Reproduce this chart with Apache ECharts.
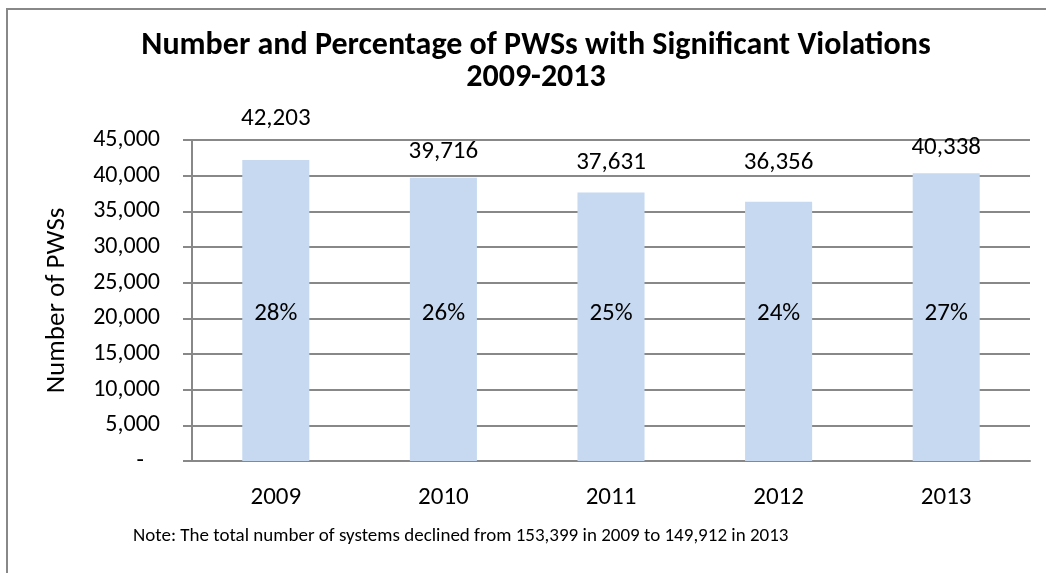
<!DOCTYPE html>
<html>
<head>
<meta charset="utf-8">
<script src="https://cdn.jsdelivr.net/npm/echarts@6/dist/echarts.min.js"></script>
<style>
  html, body { margin: 0; padding: 0; background: #fff; }
  #chart { width: 1046px; height: 573px; }
</style>
</head>
<body>
<div id="chart"></div>
<script>
// PWSs with significant violations, by year
const years = ['2009', '2010', '2011', '2012', '2013'];
const counts = [42203, 39716, 37631, 36356, 40338];
const shares = ['28%', '26%', '25%', '24%', '27%'];
// extra lift of each count label above its bar (px)
const countLabelGap = [29, 13, 17, 26, 13];
const yTicks = { min: 0, max: 45000, step: 5000 };

const FONT = 'Carlito, Lato, sans-serif';
const fmt = v => v === 0 ? '-   ' : v.toLocaleString('en-US');

const chart = echarts.init(document.getElementById('chart'), null, { renderer: 'canvas' });
chart.setOption({
  animation: false,
  backgroundColor: '#fff',
  textStyle: { fontFamily: FONT, color: '#000' },
  title: {
    text: 'Number and Percentage of PWSs with Significant Violations\n2009-2013',
    left: 531, top: 25, textAlign: 'center',
    textStyle: { fontFamily: FONT, fontWeight: 'bold', fontSize: 32, lineHeight: 32, color: '#000' }
  },
  graphic: [
    { type: 'rect', shape: { x: 7, y: 9, width: 1100, height: 700 },
      style: { fill: 'none', stroke: '#888', lineWidth: 2 }, silent: true },
    { type: 'text', left: 133, top: 527,
      style: { text: 'Note: The total number of systems declined from 153,399 in 2009 to 149,912 in 2013',
               font: '19px ' + FONT, fill: '#000' } }
  ],
  grid: { left: 192, right: 16, top: 140, bottom: 112 },
  xAxis: {
    type: 'category', data: years,
    axisLine: { lineStyle: { color: '#888', width: 2 } },
    axisTick: { show: false },
    axisLabel: { fontFamily: FONT, fontSize: 25, color: '#000', margin: 24 }
  },
  yAxis: {
    type: 'value', min: yTicks.min, max: yTicks.max, interval: yTicks.step,
    name: 'Number of PWSs', nameLocation: 'middle', nameGap: 121, nameRotate: 90,
    nameTextStyle: { fontFamily: FONT, fontSize: 27, color: '#000' },
    axisLine: { show: true, lineStyle: { color: '#888', width: 2 } },
    axisTick: { show: true, length: 9, lineStyle: { color: '#888', width: 2 } },
    axisLabel: { fontFamily: FONT, fontSize: 24, color: '#000', margin: 32, formatter: fmt },
    splitLine: { lineStyle: { color: '#888', width: 2 } }
  },
  series: [
    {
      type: 'bar', data: counts.map((v, i) => ({
        value: v,
        label: { distance: countLabelGap[i] }
      })),
      barWidth: '40%',
      itemStyle: { color: '#C6D9F1' },
      label: { show: true, position: 'top', fontFamily: FONT, fontSize: 25, color: '#000',
               formatter: p => p.value.toLocaleString('en-US') },
      z: 2
    },
    {
      type: 'bar', data: counts, barWidth: '40%', barGap: '-100%',
      itemStyle: { color: 'rgba(0,0,0,0)' },
      label: { show: true, position: 'insideBottom', distance: 135, fontFamily: FONT,
               fontSize: 25, color: '#000', formatter: p => shares[p.dataIndex] },
      z: 3, silent: true
    }
  ]
});
</script>
</body>
</html>
